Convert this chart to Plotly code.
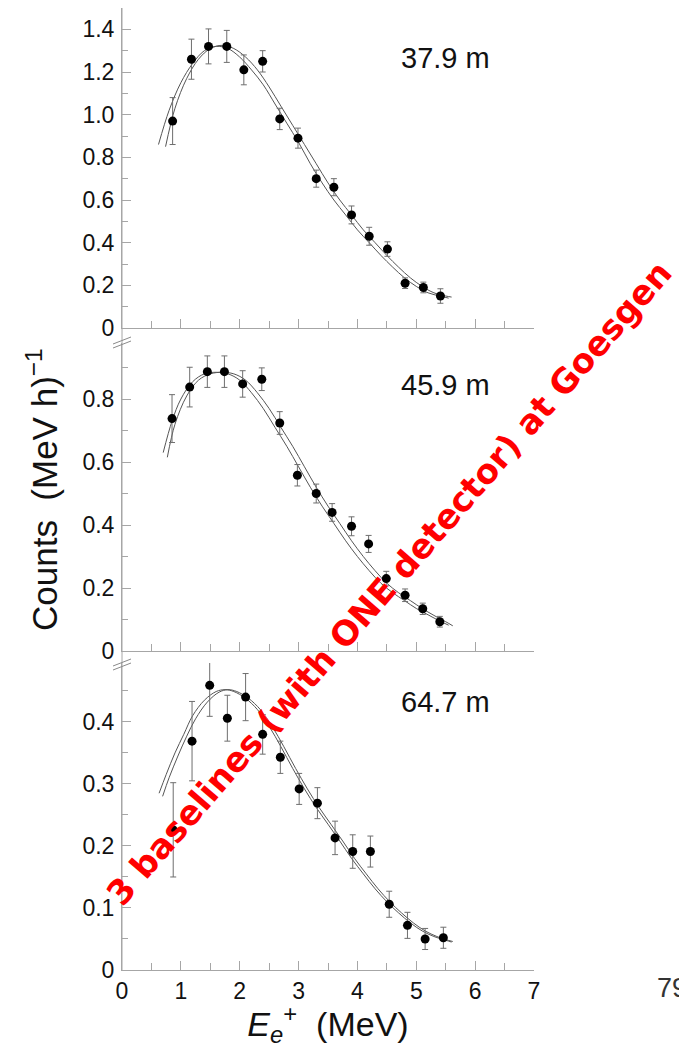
import plotly.graph_objects as go

# ---------------- data ----------------
# Panel 37.9 m (top)
e_top = [0.86, 1.18, 1.47, 1.78, 2.07, 2.39, 2.68, 2.99, 3.30, 3.60, 3.90, 4.20, 4.51, 4.81, 5.12, 5.41]
c_top = [0.97, 1.26, 1.32, 1.32, 1.21, 1.25, 0.98, 0.89, 0.70, 0.66, 0.53, 0.43, 0.37, 0.21, 0.19, 0.15]
err_top = [0.11, 0.094, 0.082, 0.075, 0.07, 0.05, 0.05, 0.047, 0.04, 0.04, 0.042, 0.042, 0.034, 0.025, 0.025, 0.034]

# Panel 45.9 m (middle)
e_mid = [0.85, 1.15, 1.45, 1.74, 2.05, 2.375, 2.68, 2.98, 3.30, 3.57, 3.90, 4.19, 4.49, 4.81, 5.11, 5.40]
c_mid = [0.738, 0.838, 0.887, 0.887, 0.848, 0.863, 0.724, 0.558, 0.50, 0.44, 0.396, 0.34, 0.23, 0.177, 0.134, 0.093]
err_mid = [0.076, 0.063, 0.05, 0.05, 0.042, 0.036, 0.036, 0.034, 0.03, 0.028, 0.03, 0.027, 0.023, 0.02, 0.018, 0.017]

# Panel 64.7 m (bottom)
e_bot = [0.87, 1.19, 1.49, 1.79, 2.10, 2.39, 2.69, 3.01, 3.32, 3.62, 3.92, 4.22, 4.54, 4.85, 5.15, 5.46]
c_bot = [0.226, 0.369, 0.459, 0.406, 0.440, 0.38, 0.343, 0.292, 0.269, 0.213, 0.191, 0.191, 0.106, 0.072, 0.050, 0.052]
err_bot = [0.076, 0.064, 0.05, 0.037, 0.038, 0.032, 0.026, 0.025, 0.025, 0.027, 0.027, 0.025, 0.021, 0.021, 0.017, 0.017]

# Fit curves (two per panel)
fit_top_a_x = [0.62, 0.8, 1.0, 1.2, 1.4, 1.6, 1.8, 2.0, 2.2, 2.4, 2.6, 2.8, 3.0, 3.2, 3.4, 3.6, 3.8, 4.0, 4.2, 4.4, 4.6, 4.8, 5.0, 5.2, 5.4, 5.55]
fit_top_a_y = [0.86, 1.02, 1.15, 1.24, 1.30, 1.32, 1.31, 1.27, 1.21, 1.14, 1.05, 0.96, 0.87, 0.77, 0.68, 0.60, 0.53, 0.46, 0.40, 0.34, 0.285, 0.235, 0.195, 0.165, 0.15, 0.14]
fit_top_b_x = [0.74, 0.9, 1.1, 1.3, 1.5, 1.7, 1.9, 2.1, 2.3, 2.5, 2.7, 2.9, 3.1, 3.3, 3.5, 3.7, 3.9, 4.1, 4.3, 4.5, 4.7, 4.9, 5.1, 5.3, 5.5, 5.6]
fit_top_b_y = [0.85, 1.03, 1.17, 1.26, 1.31, 1.325, 1.31, 1.27, 1.21, 1.13, 1.04, 0.95, 0.86, 0.77, 0.68, 0.60, 0.53, 0.46, 0.40, 0.34, 0.285, 0.235, 0.195, 0.165, 0.15, 0.145]

fit_mid_a_x = [0.70, 0.85, 1.0, 1.2, 1.4, 1.6, 1.8, 2.0, 2.2, 2.4, 2.6, 2.8, 3.0, 3.2, 3.4, 3.6, 3.8, 4.0, 4.2, 4.4, 4.6, 4.8, 5.0, 5.2, 5.4, 5.55]
fit_mid_a_y = [0.63, 0.73, 0.80, 0.855, 0.88, 0.885, 0.88, 0.86, 0.82, 0.77, 0.71, 0.65, 0.585, 0.52, 0.46, 0.405, 0.35, 0.30, 0.255, 0.215, 0.185, 0.16, 0.135, 0.115, 0.095, 0.082]
fit_mid_b_x = [0.77, 0.9, 1.1, 1.3, 1.5, 1.7, 1.9, 2.1, 2.3, 2.5, 2.7, 2.9, 3.1, 3.3, 3.5, 3.7, 3.9, 4.1, 4.3, 4.5, 4.7, 4.9, 5.1, 5.3, 5.5, 5.62]
fit_mid_b_y = [0.615, 0.72, 0.81, 0.86, 0.88, 0.885, 0.88, 0.86, 0.82, 0.77, 0.71, 0.65, 0.585, 0.52, 0.46, 0.405, 0.35, 0.30, 0.255, 0.215, 0.185, 0.16, 0.135, 0.113, 0.093, 0.08]

fit_bot_a_x = [0.63, 0.75, 0.9, 1.05, 1.2, 1.4, 1.6, 1.75, 1.9, 2.1, 2.3, 2.5, 2.7, 2.9, 3.1, 3.3, 3.5, 3.7, 3.9, 4.1, 4.3, 4.5, 4.7, 4.9, 5.1, 5.3, 5.5, 5.6]
fit_bot_a_y = [0.285, 0.315, 0.35, 0.38, 0.41, 0.435, 0.449, 0.452, 0.449, 0.438, 0.42, 0.393, 0.36, 0.325, 0.292, 0.262, 0.235, 0.208, 0.18, 0.155, 0.131, 0.11, 0.092, 0.076, 0.063, 0.054, 0.048, 0.045]
fit_bot_b_x = [0.69, 0.8, 0.95, 1.1, 1.25, 1.45, 1.65, 1.8, 1.95, 2.15, 2.35, 2.55, 2.75, 2.95, 3.15, 3.35, 3.55, 3.75, 3.95, 4.15, 4.35, 4.55, 4.75, 4.95, 5.15, 5.35, 5.5, 5.62]
fit_bot_b_y = [0.28, 0.31, 0.345, 0.377, 0.405, 0.432, 0.448, 0.452, 0.449, 0.438, 0.42, 0.393, 0.36, 0.325, 0.292, 0.262, 0.235, 0.208, 0.18, 0.155, 0.131, 0.11, 0.092, 0.076, 0.063, 0.054, 0.049, 0.046]

baselines = ["37.9 m", "45.9 m", "64.7 m"]
x_ticks = [0, 1, 2, 3, 4, 5, 6, 7]
y_ticks_top = [0, 0.2, 0.4, 0.6, 0.8, 1.0, 1.2, 1.4]
y_text_top = ["0", "0.2", "0.4", "0.6", "0.8", "1.0", "1.2", "1.4"]
y_ticks_mid = [0, 0.2, 0.4, 0.6, 0.8]
y_text_mid = ["0", "0.2", "0.4", "0.6", "0.8"]
y_ticks_bot = [0, 0.1, 0.2, 0.3, 0.4]
y_text_bot = ["0", "0.1", "0.2", "0.3", "0.4"]

# ---------------- figure ----------------
W, H = 679, 1048
ML, MR, MT, MB = 122, 145, 8, 78
FONT = "Liberation Sans, Arial, Helvetica, sans-serif"
AXC = "#a6a6a6"
LINEC = "#555555"

def px_x(px):
    return (px - ML) / (W - ML - MR)

def px_y(py):
    return (H - MB - py) / (H - MT - MB)

fig = go.Figure()

panels = [
    ("x3", "y3", e_top, c_top, err_top, fit_top_a_x, fit_top_a_y, fit_top_b_x, fit_top_b_y),
    ("x2", "y2", e_mid, c_mid, err_mid, fit_mid_a_x, fit_mid_a_y, fit_mid_b_x, fit_mid_b_y),
    ("x", "y", e_bot, c_bot, err_bot, fit_bot_a_x, fit_bot_a_y, fit_bot_b_x, fit_bot_b_y),
]
for xa, ya, ex, cy, er, fax, fay, fbx, fby in panels:
    for fx, fy in ((fax, fay), (fbx, fby)):
        fig.add_trace(go.Scatter(x=fx, y=fy, mode="lines", xaxis=xa, yaxis=ya,
                                 line=dict(color=LINEC, width=1, shape="spline", smoothing=1.0),
                                 showlegend=False, hoverinfo="skip"))
    fig.add_trace(go.Scatter(x=ex, y=cy, mode="markers", xaxis=xa, yaxis=ya,
                             marker=dict(color="black", size=9),
                             error_y=dict(type="data", array=er, visible=True,
                                          color="#6e6e6e", thickness=1, width=3),
                             showlegend=False))

common_x = dict(range=[0, 7], showline=True, linecolor=AXC, linewidth=1,
                ticks="inside", ticklen=9, tickcolor=AXC, tickwidth=1,
                tickmode="array", tickvals=x_ticks, showgrid=False, zeroline=False,
                minor=dict(ticks="inside", ticklen=7, tickcolor=AXC, dtick=0.5, tick0=0, showgrid=False),
                tickfont=dict(family=FONT, size=23, color="#111"))
common_y = dict(showline=True, linecolor=AXC, linewidth=1, ticks="inside", ticklen=9,
                tickcolor=AXC, tickwidth=1, showgrid=False, zeroline=False,
                tickmode="array", ticklabelstandoff=2,
                tickfont=dict(family=FONT, size=23, color="#111"))

d_bot = [0.0, px_y(663)]
d_mid = [px_y(651), px_y(343)]
d_top = [px_y(328), 1.0]

fig.update_layout(
    width=W, height=H,
    margin=dict(l=ML, r=MR, t=MT, b=MB),
    paper_bgcolor="white", plot_bgcolor="white",
    showlegend=False,
    xaxis=dict(common_x, anchor="y", domain=[0, 1], showticklabels=True,
               title=dict(text="<i>E</i><sub><i>e</i></sub><sup>+</sup>&nbsp;&nbsp;(MeV)",
                          font=dict(family=FONT, size=34, color="#111"), standoff=4)),
    xaxis2=dict(common_x, anchor="y2", domain=[0, 1], showticklabels=False),
    xaxis3=dict(common_x, anchor="y3", domain=[0, 1], showticklabels=False),
    yaxis=dict(common_y, anchor="x", domain=d_bot, range=[0, 0.495],
               tickvals=y_ticks_bot, ticktext=y_text_bot,
               minor=dict(ticks="inside", ticklen=6, tickcolor=AXC, dtick=0.05, tick0=0, showgrid=False)),
    yaxis2=dict(common_y, anchor="x2", domain=d_mid, range=[0, 0.978],
                tickvals=y_ticks_mid, ticktext=y_text_mid,
                minor=dict(ticks="inside", ticklen=6, tickcolor=AXC, dtick=0.1, tick0=0, showgrid=False)),
    yaxis3=dict(common_y, anchor="x3", domain=d_top, range=[0, 1.5],
                tickvals=y_ticks_top, ticktext=y_text_top,
                minor=dict(ticks="inside", ticklen=6, tickcolor=AXC, dtick=0.1, tick0=0, showgrid=False)),
)

# panel labels
for (xa, ya, yv), lab in zip([("x3", "y3", 1.266), ("x2", "y2", 0.845), ("x", "y", 0.432)], baselines):
    fig.add_annotation(x=5.5, y=yv, xref=xa, yref=ya, text=lab, showarrow=False,
                       xanchor="center", yanchor="middle",
                       font=dict(family=FONT, size=29, color="#111"))

# y axis title
fig.add_annotation(x=px_x(42), y=px_y(490), xref="paper", yref="paper",
                   xanchor="center", yanchor="middle",
                   text="Counts&nbsp;&nbsp;(MeV h)<sup>\u22121</sup>", textangle=-90, showarrow=False,
                   font=dict(family=FONT, size=35, color="#111"))

# continuous left axis line through the gaps + break marks
fig.add_shape(type="line", xref="paper", yref="paper", x0=0, x1=0, y0=0, y1=1,
              line=dict(color=AXC, width=1))
for yb in (340, 662):
    for dy in (0, 4):
        fig.add_shape(type="line", xref="paper", yref="paper",
                      x0=px_x(113), y0=px_y(yb + 4 + dy), x1=px_x(131), y1=px_y(yb - 3 + dy),
                      line=dict(color="#8a8a8a", width=1))

# page number (clipped at the edge, as in the reference)
fig.add_annotation(x=px_x(655), y=px_y(988), xref="paper", yref="paper", text="79",
                   showarrow=False, xanchor="left", yanchor="middle",
                   font=dict(family=FONT, size=27, color="#333"))

# red overlay note
fig.add_annotation(x=px_x(389), y=px_y(583), xref="paper", yref="paper",
                   xanchor="center", yanchor="middle",
                   text="<b>3 baselines (with ONE detector) at Goesgen</b>",
                   textangle=-49, showarrow=False,
                   font=dict(family="Comic Sans MS, DejaVu Sans, sans-serif", size=34, color="#ff0000"))

fig.write_html("out.html", config={"displayModeBar": False},
               post_script="document.body.style.margin='0';document.body.style.padding='0';")
